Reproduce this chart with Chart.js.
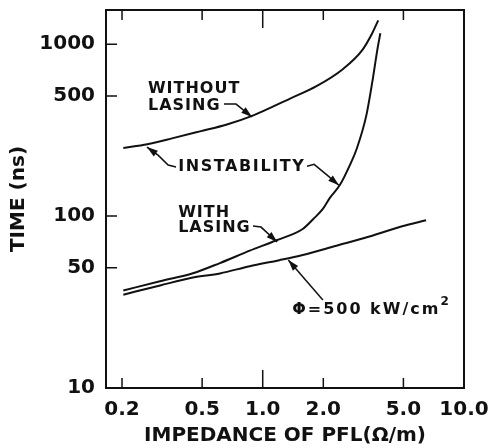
<!DOCTYPE html>
<html>
<head>
<meta charset="utf-8">
<script src="https://cdn.jsdelivr.net/npm/chart.js@4/dist/chart.umd.min.js"></script>
<style>
html, body { margin: 0; padding: 0; background: #fff; }
#wrap { width: 492px; height: 448px; }
</style>
</head>
<body>
<div id="wrap"><canvas id="chart"></canvas></div>
<script>
// impedance of PFL (ohm/m) vs time (ns)
const withoutX = [0.203, 0.267, 0.358, 0.488, 0.664, 0.892, 1.36, 1.85, 2.49, 3.13, 3.50, 3.75];
const withoutY = [249, 262, 284, 311, 341, 384, 481, 570, 713, 927, 1158, 1376];

const withX = [0.203, 0.309, 0.450, 0.613, 0.862, 1.17, 1.58, 1.78, 1.99, 2.16, 2.42, 2.71, 2.94, 3.27, 3.50, 3.71, 3.84];
const withY = [36.9, 41.8, 46.5, 53.3, 62.9, 72.3, 84.1, 95.9, 110, 128, 152, 198, 249, 384, 599, 927, 1158];

const fluxX = [0.203, 0.309, 0.450, 0.613, 0.862, 1.21, 1.58, 2.32, 3.39, 4.93, 6.48];
const fluxY = [34.9, 39.5, 43.9, 46.4, 51.1, 55.4, 59.4, 67.2, 76.0, 87.2, 94.6];

const xTicks = [0.2, 0.5, 1, 2, 5, 10];
const xTickLabels = ['0.2', '0.5', '1.0', '2.0', '5.0', '10.0'];
const yTicks = [10, 50, 100, 500, 1000];
const yTickLabels = ['10', '50', '100', '500', '1000'];

// text labels and leader arrows, in data units
const notes = [
    { text: 'WITHOUT', x: 0.269, y: 547, spacing: 1 },
    { text: 'LASING', x: 0.269, y: 436, spacing: 1 },
    { text: 'INSTABILITY', x: 0.380, y: 193, spacing: 1.6 },
    { text: 'WITH', x: 0.380, y: 105, spacing: 1 },
    { text: 'LASING', x: 0.380, y: 85, spacing: 1 }
];
const arrows = [
    [[0.642, 448], [0.737, 448], [0.885, 377]],
    [[0.371, 193], [0.339, 198], [0.302, 226], [0.266, 252]],
    [[1.66, 195], [1.80, 200], [2.09, 173], [2.39, 151]],
    [[0.895, 87.5], [0.981, 86.3], [1.18, 70.6]],
    [[1.99, 32.5], [1.34, 55.5]]
];
const fluxLabel = { text: '\u03A6=500 kW/cm', sup: '2', x: 1.40, y: 28.4 };

const ink = '#111';
const font = '"DejaVu Sans", sans-serif';

function pts(xs, ys) {
    return xs.map((v, i) => ({ x: v, y: ys[i] }));
}

function line(data) {
    return {
        data: data,
        borderColor: ink,
        borderWidth: 2,
        pointRadius: 0,
        fill: false,
        cubicInterpolationMode: 'monotone'
    };
}

const decor = {
    id: 'decor',
    afterDraw(chart) {
        const { ctx, chartArea: a, scales: { x, y } } = chart;
        const px = v => x.getPixelForValue(v);
        const py = v => y.getPixelForValue(v);
        ctx.save();
        ctx.strokeStyle = ink;
        ctx.fillStyle = ink;
        ctx.lineWidth = 2;
        ctx.strokeRect(a.left, a.top, a.right - a.left, a.bottom - a.top);

        // tick marks point inward, the 1.0 one is longer
        ctx.lineWidth = 1.5;
        ctx.beginPath();
        xTicks.forEach(v => {
            if (v >= 10) return;
            const len = v === 1 ? 18 : 10;
            ctx.moveTo(px(v), a.bottom);
            ctx.lineTo(px(v), a.bottom - len);
            ctx.moveTo(px(v), a.top);
            ctx.lineTo(px(v), a.top + len);
        });
        yTicks.forEach(v => {
            if (v <= 10) return;
            ctx.moveTo(a.left, py(v));
            ctx.lineTo(a.left + 11, py(v));
        });
        ctx.stroke();

        // labels
        ctx.font = 'bold 16px ' + font;
        ctx.textAlign = 'left';
        ctx.textBaseline = 'middle';
        notes.forEach(n => {
            ctx.letterSpacing = n.spacing + 'px';
            ctx.fillText(n.text, px(n.x), py(n.y));
        });

        ctx.letterSpacing = '2px';
        const fx = px(fluxLabel.x), fy = py(fluxLabel.y);
        ctx.fillText(fluxLabel.text, fx, fy);
        const w = ctx.measureText(fluxLabel.text).width;
        ctx.font = 'bold 12px ' + font;
        ctx.letterSpacing = '0px';
        ctx.fillText(fluxLabel.sup, fx + w, fy - 8);

        // arrows
        ctx.lineWidth = 1.5;
        arrows.forEach(path => {
            const p = path.map(q => [px(q[0]), py(q[1])]);
            ctx.beginPath();
            ctx.moveTo(p[0][0], p[0][1]);
            for (let i = 1; i < p.length; i++) ctx.lineTo(p[i][0], p[i][1]);
            ctx.stroke();
            const [x1, y1] = p[p.length - 2];
            const [x2, y2] = p[p.length - 1];
            const ang = Math.atan2(y2 - y1, x2 - x1);
            ctx.beginPath();
            ctx.moveTo(x2, y2);
            ctx.lineTo(x2 - 11 * Math.cos(ang) + 3.5 * Math.sin(ang), y2 - 11 * Math.sin(ang) - 3.5 * Math.cos(ang));
            ctx.lineTo(x2 - 11 * Math.cos(ang) - 3.5 * Math.sin(ang), y2 - 11 * Math.sin(ang) + 3.5 * Math.cos(ang));
            ctx.closePath();
            ctx.fill();
        });
        ctx.restore();
    }
};

const tickFont = { family: font, size: 20, weight: 'bold' };

new Chart(document.getElementById('chart'), {
    type: 'line',
    data: {
        datasets: [
            line(pts(withoutX, withoutY)),
            line(pts(withX, withY)),
            line(pts(fluxX, fluxY))
        ]
    },
    options: {
        responsive: true,
        maintainAspectRatio: false,
        animation: false,
        layout: { padding: { top: 10, right: 28, left: 0, bottom: 0 } },
        plugins: { legend: { display: false }, tooltip: { enabled: false } },
        scales: {
            x: {
                type: 'logarithmic',
                min: 0.1665,
                max: 10,
                grid: { display: false, drawTicks: false },
                border: { display: false },
                afterBuildTicks: s => { s.ticks = xTicks.map(v => ({ value: v })); },
                afterFit: s => { s.height = 60; s.paddingLeft = 0; s.paddingRight = 0; },
                ticks: {
                    color: ink,
                    font: tickFont,
                    padding: 10,
                    autoSkip: false,
                    maxRotation: 0,
                    callback: (v) => xTickLabels[xTicks.indexOf(v)]
                },
                title: {
                    display: true,
                    text: 'IMPEDANCE OF PFL(\u03A9/m)',
                    color: ink,
                    font: tickFont,
                    padding: { top: 0, bottom: 0 }
                }
            },
            y: {
                type: 'logarithmic',
                min: 10,
                max: 1580,
                grid: { display: false, drawTicks: false },
                border: { display: false },
                afterBuildTicks: s => { s.ticks = yTicks.map(v => ({ value: v })); },
                afterFit: s => { s.width = 106; s.paddingTop = 0; s.paddingBottom = 0; },
                ticks: {
                    color: ink,
                    font: tickFont,
                    padding: 11,
                    autoSkip: false,
                    callback: (v) => yTickLabels[yTicks.indexOf(v)]
                },
                title: {
                    display: true,
                    text: 'TIME (ns)',
                    color: ink,
                    font: tickFont,
                    padding: { top: 7, bottom: 0 }
                }
            }
        }
    },
    plugins: [decor]
});
</script>
</body>
</html>
